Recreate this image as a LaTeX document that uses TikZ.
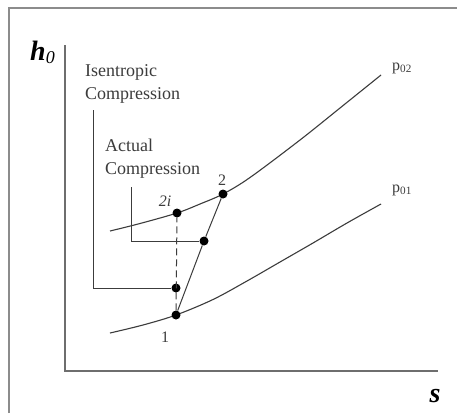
\documentclass[tikz,border=0pt]{standalone}
\usepackage{fontspec}
\setmainfont{Liberation Serif}
\usepackage{xcolor}
\usetikzlibrary{positioning}
\definecolor{framegray}{RGB}{140,140,140}
\definecolor{axisgray}{RGB}{110,110,110}
\definecolor{ink}{RGB}{60,60,60}
\tikzset{
  frameline/.style={line width=2pt,framegray},
  axis/.style={line width=1.6pt,axisgray},
  isobar/.style={line width=1.1pt,ink},
  bracket/.style={line width=1pt,ink},
  process/.style={line width=1pt,ink},
  dot/.style={circle,fill=black,inner sep=0pt,minimum size=9pt},
  label/.style={font=\fontsize{18}{23}\selectfont,text=ink,align=left,inner sep=0pt},
  ptlabel/.style={font=\fontsize{16}{18}\selectfont,text=ink,inner sep=0pt},
  axlabel/.style={font=\fontsize{28}{30}\selectfont\bfseries\itshape,inner sep=0pt}
}
\begin{document}
\begin{tikzpicture}[x=1pt,y=-1pt]
  \useasboundingbox[fill=white] (0,0) rectangle (457,413);
  % outer frame
  \coordinate (fbl) at (9,413);
  \coordinate (ftr) at (457,8);
  \draw[frameline] (fbl) |- (ftr);
  % axes
  \coordinate (ytop) at (65,45);
  \coordinate (xend) at (438,371);
  \draw[axis] (ytop) |- (xend);
  \node[axlabel,anchor=base west] (hlab) at (30,60) {h\textsubscript{\mdseries\fontsize{18}{18}\selectfont 0}};
  \node[axlabel] (slab) at (435,396) {s};
  % constant pressure lines
  \draw[isobar] plot[smooth,tension=0.55] coordinates {(110,231) (140,223.5) (177,213) (200,204) (223,194) (250,177.5) (300,140) (340,108) (381,75)};
  \draw[isobar] plot[smooth,tension=0.55] coordinates {(110,333) (143,325) (176,315) (213,299.5) (247,281) (280,262) (313,243) (347,223) (381,204)};
  \node[ptlabel,anchor=west] (p02) at (392,68) {p\textsubscript{02}};
  \node[ptlabel,anchor=west] (p01) at (392,190) {p\textsubscript{01}};
  % state points
  \node[dot] (s1) at (176,315) {};
  \node[dot] (s2i) at (177,213) {};
  \node[dot] (s2) at (223,194) {};
  \node[dot] (sa) at (204,241) {};
  \node[dot] (si) at (176,288) {};
  \node[ptlabel] (l1) at (165,337) {1};
  \node[ptlabel] (l2) at (222,180) {2};
  \node[ptlabel,font=\fontsize{16}{18}\selectfont\itshape] (l2i) at (165,201) {2i};
  % compression paths
  \draw[process,dashed,dash pattern=on 7pt off 4pt] (s1) -- (s2i);
  \draw[process] (s1) -- (sa) -- (s2);
  % brackets
  \node[label,anchor=west] (isen) at (85,83.5) {Isentropic\\Compression};
  \node[label,anchor=west] (act) at (105,159) {Actual\\Compression};
  \coordinate (isotop) at (93,110);
  \coordinate (acttop) at (131,187);
  \draw[bracket] (isotop) |- (si);
  \draw[bracket] (acttop) |- (sa);
\end{tikzpicture}
\end{document}
